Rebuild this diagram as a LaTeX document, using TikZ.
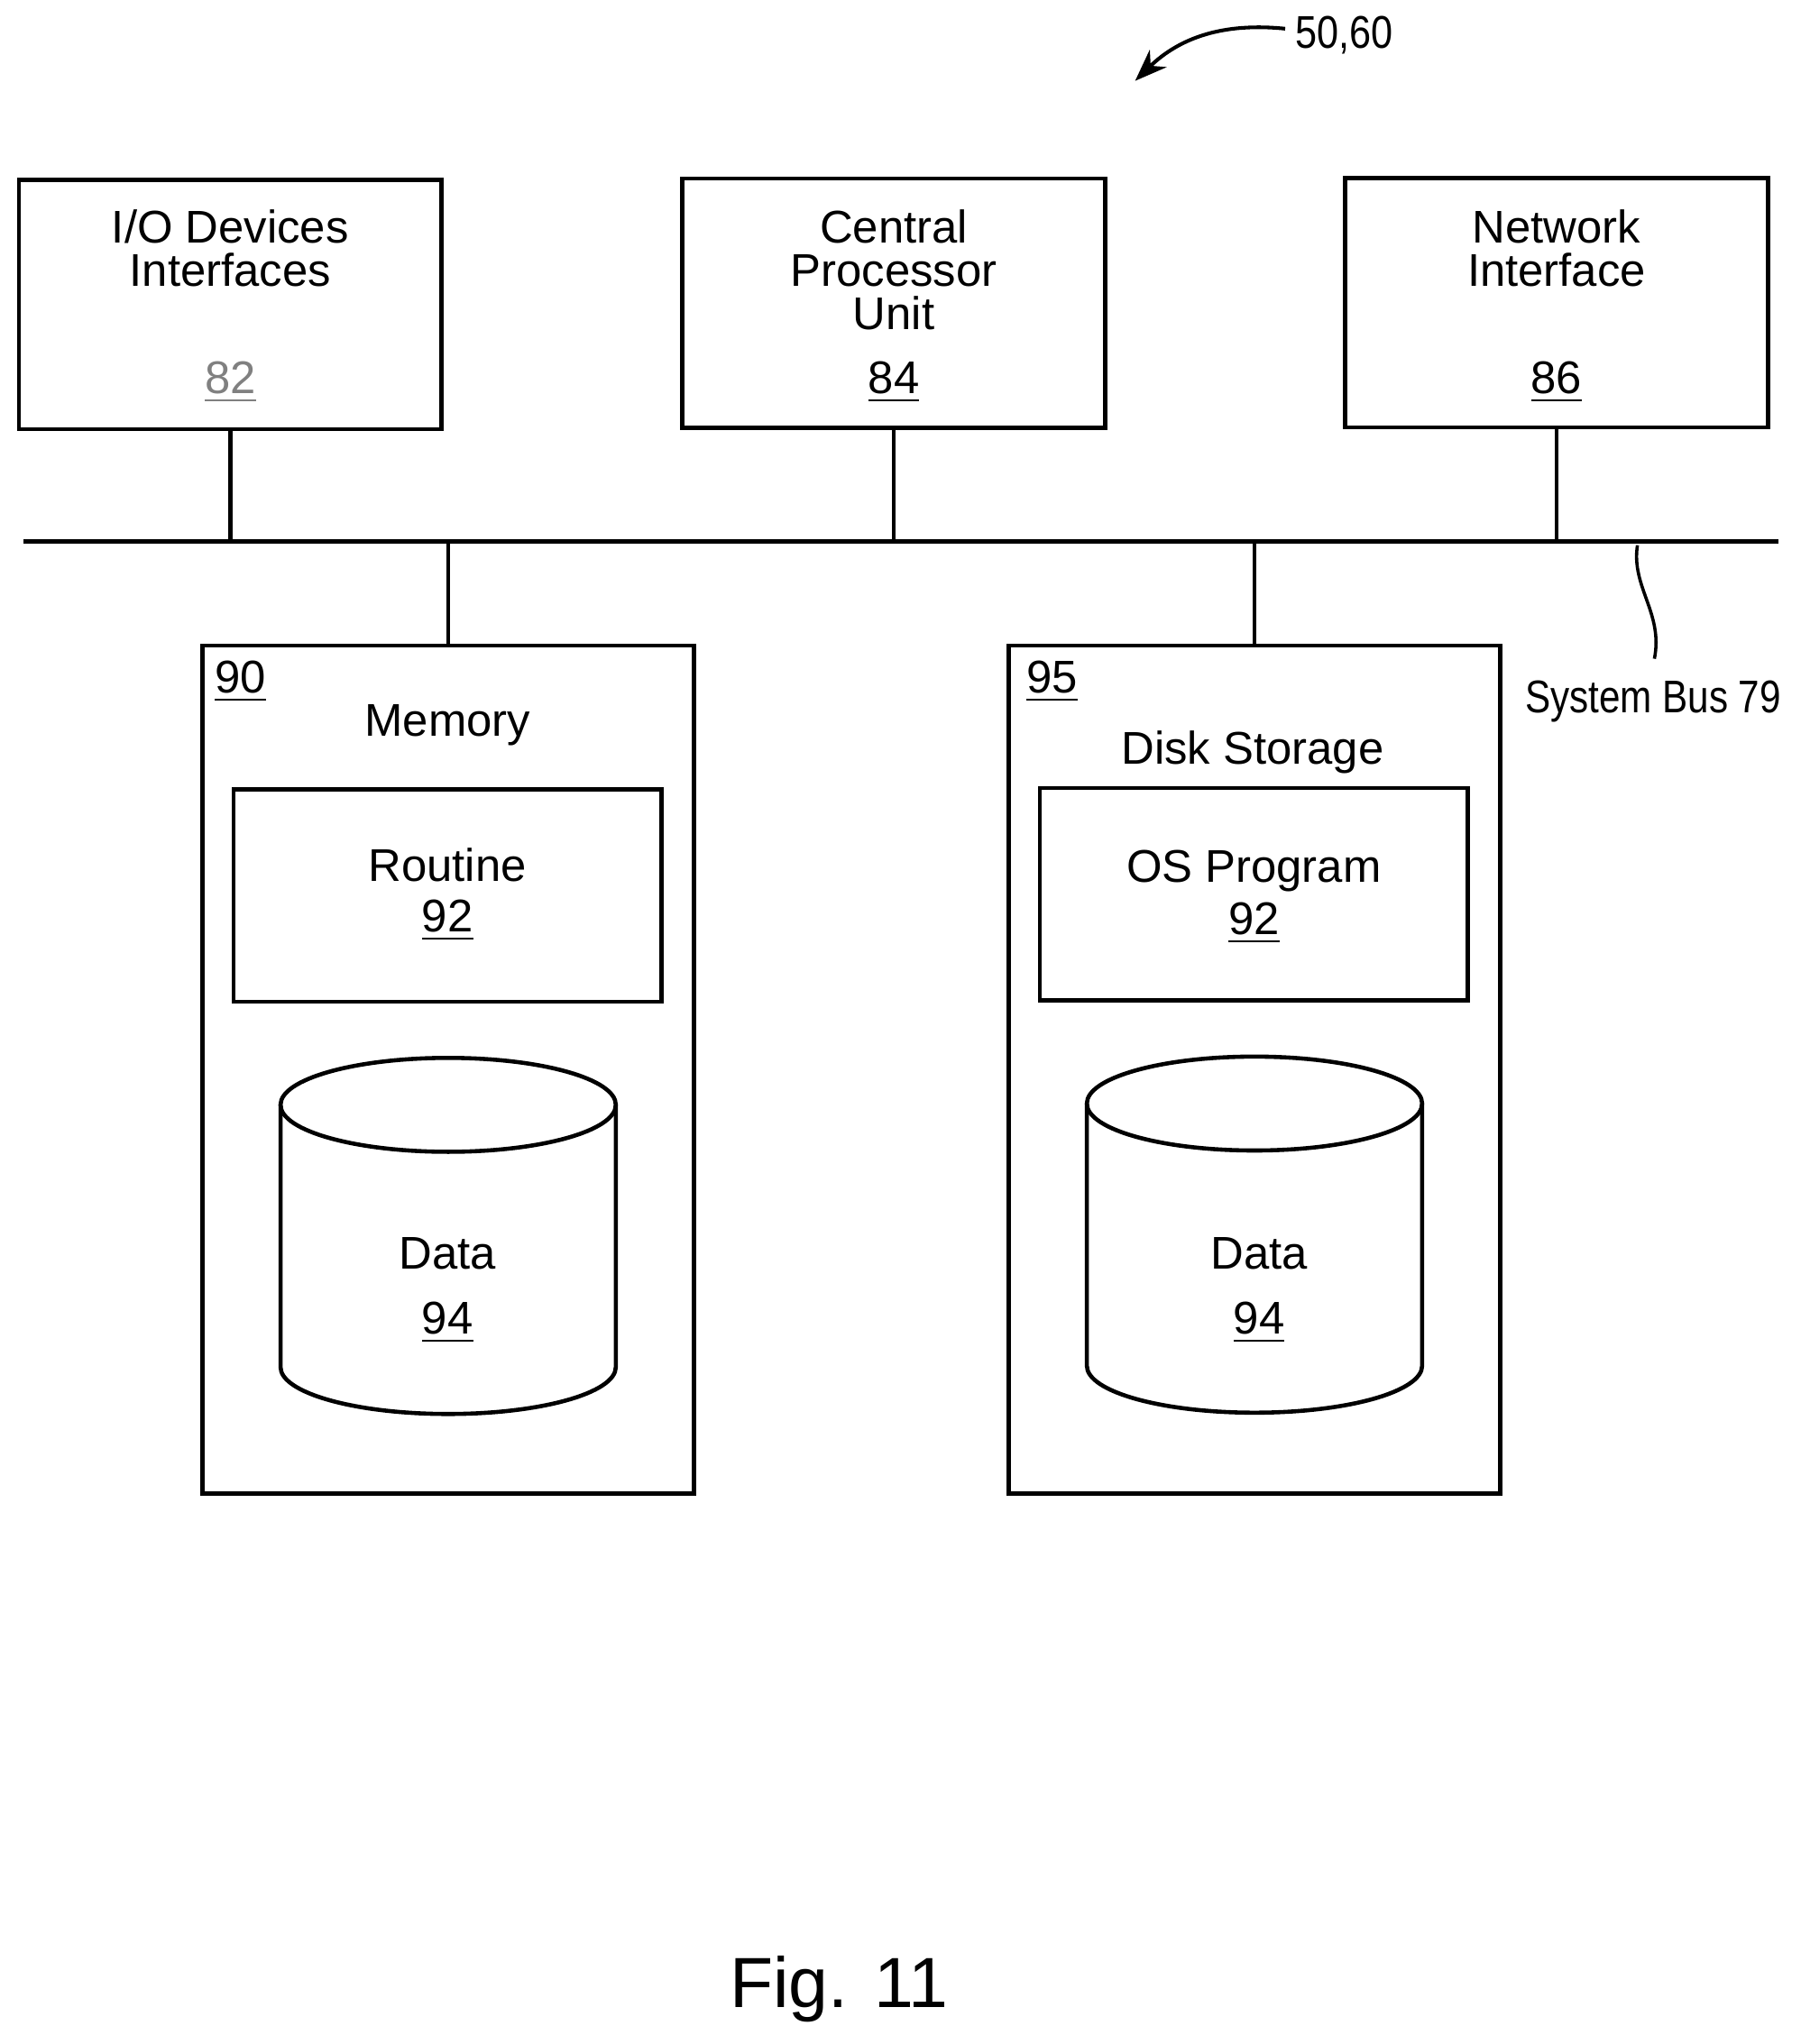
\documentclass[tikz,border=0pt]{standalone}
\usepackage{fontspec}
\setmainfont{Liberation Sans}
\usetikzlibrary{arrows.meta,positioning,calc}

\tikzset{
  box/.style={draw, line width=0.9pt, minimum width=3.24cm, minimum height=1.91cm},
  lbl/.style={font=\fontsize{10}{11}\selectfont, align=center, inner sep=0pt},
  bus/.style={line width=0.9pt}
}
\newcommand{\ul}[1]{\underline{#1}}
% data store drawn as a cylinder centred at #1
\newcommand{\datadrum}[1]{
  \draw[line width=0.9pt] ($(#1)+(-1.285,0)$) -- ++(0,-2.01)
    arc[start angle=180, end angle=360, x radius=1.285, y radius=0.36] -- ++(0,2.01);
  \draw[line width=0.9pt] (#1) ellipse[x radius=1.285, y radius=0.36];
}

\begin{document}
\begin{tikzpicture}
\useasboundingbox (0,0) rectangle (13.8,-15.67);

% top row
\node[box] (io) at (1.765,-2.335) {};
\node[lbl, anchor=north] at (1.765,-1.6) {I/O Devices\\[-1.5pt]Interfaces};
\node[lbl, text=gray] at (1.765,-2.93) {\ul{82}};
\node[box] (cpu) at (6.85,-2.325) {};
\node[lbl, anchor=north] at (6.85,-1.6) {Central\\[-1.5pt]Processor\\[-1.5pt]Unit};
\node[lbl] at (6.85,-2.93) {\ul{84}};
\node[box] (net) at (11.93,-2.32) {};
\node[lbl, anchor=north] at (11.93,-1.6) {Network\\[-1.5pt]Interface};
\node[lbl] at (11.93,-2.93) {\ul{86}};

% system bus
\coordinate (busL) at (0.18,-4.15);
\coordinate (busR) at (13.63,-4.15);
\draw[bus] (busL) -- (busR);
\draw[bus] (io.south) -- (io.south |- busL);
\draw[bus] (cpu.south) -- (cpu.south |- busL);
\draw[bus] (net.south) -- (net.south |- busL);

% memory
\node[draw, line width=0.9pt, minimum width=3.77cm, minimum height=6.5cm] (mem) at (3.435,-8.2) {};
\draw[bus] (mem.north) -- (mem.north |- busL);
\node[lbl, anchor=north west] at (1.64,-5.06) {\ul{90}};
\node[lbl] at (3.43,-5.56) {Memory};
\node[draw, line width=0.9pt, minimum width=3.28cm, minimum height=1.63cm] (rout) at (3.43,-6.865) {};
\node[lbl] at (3.43,-6.63) {Routine};
\node[lbl] at (3.43,-7.06) {\ul{92}};
\coordinate (drumA) at (3.435,-8.47);
\datadrum{drumA}
\node[lbl] at (3.43,-9.61) {Data};
\node[lbl] at (3.43,-10.14) {\ul{94}};

% disk storage
\node[draw, line width=0.9pt, minimum width=3.77cm, minimum height=6.5cm] (disk) at (9.615,-8.2) {};
\draw[bus] (disk.north) -- (disk.north |- busL);
\node[lbl, anchor=north west] at (7.86,-5.06) {\ul{95}};
\node[lbl] at (9.6,-5.77) {Disk Storage};
\node[draw, line width=0.9pt, minimum width=3.28cm, minimum height=1.63cm] (os) at (9.61,-6.855) {};
\node[lbl] at (9.61,-6.68) {OS Program};
\node[lbl] at (9.61,-7.08) {\ul{92}};
\coordinate (drumB) at (9.615,-8.46);
\datadrum{drumB}
\node[lbl] at (9.65,-9.61) {Data};
\node[lbl] at (9.65,-10.14) {\ul{94}};

% reference labels
\node[lbl, xscale=0.85] (ref) at (10.3,-0.27) {50,60};
\draw[-{Stealth[length=7pt]}, line width=0.8pt] (9.85,-0.22) to[bend right=25] (8.7,-0.62);
\node[lbl, xscale=0.83] (sb) at (12.67,-5.38) {System Bus 79};
\draw[line width=0.7pt] (12.55,-4.18) .. controls (12.5,-4.5) and (12.75,-4.7) .. (12.68,-5.05);

\node[font=\fontsize{15.5}{17}\selectfont] (fig) at (6.43,-15.25) {Fig. 11};
\end{tikzpicture}
\end{document}
